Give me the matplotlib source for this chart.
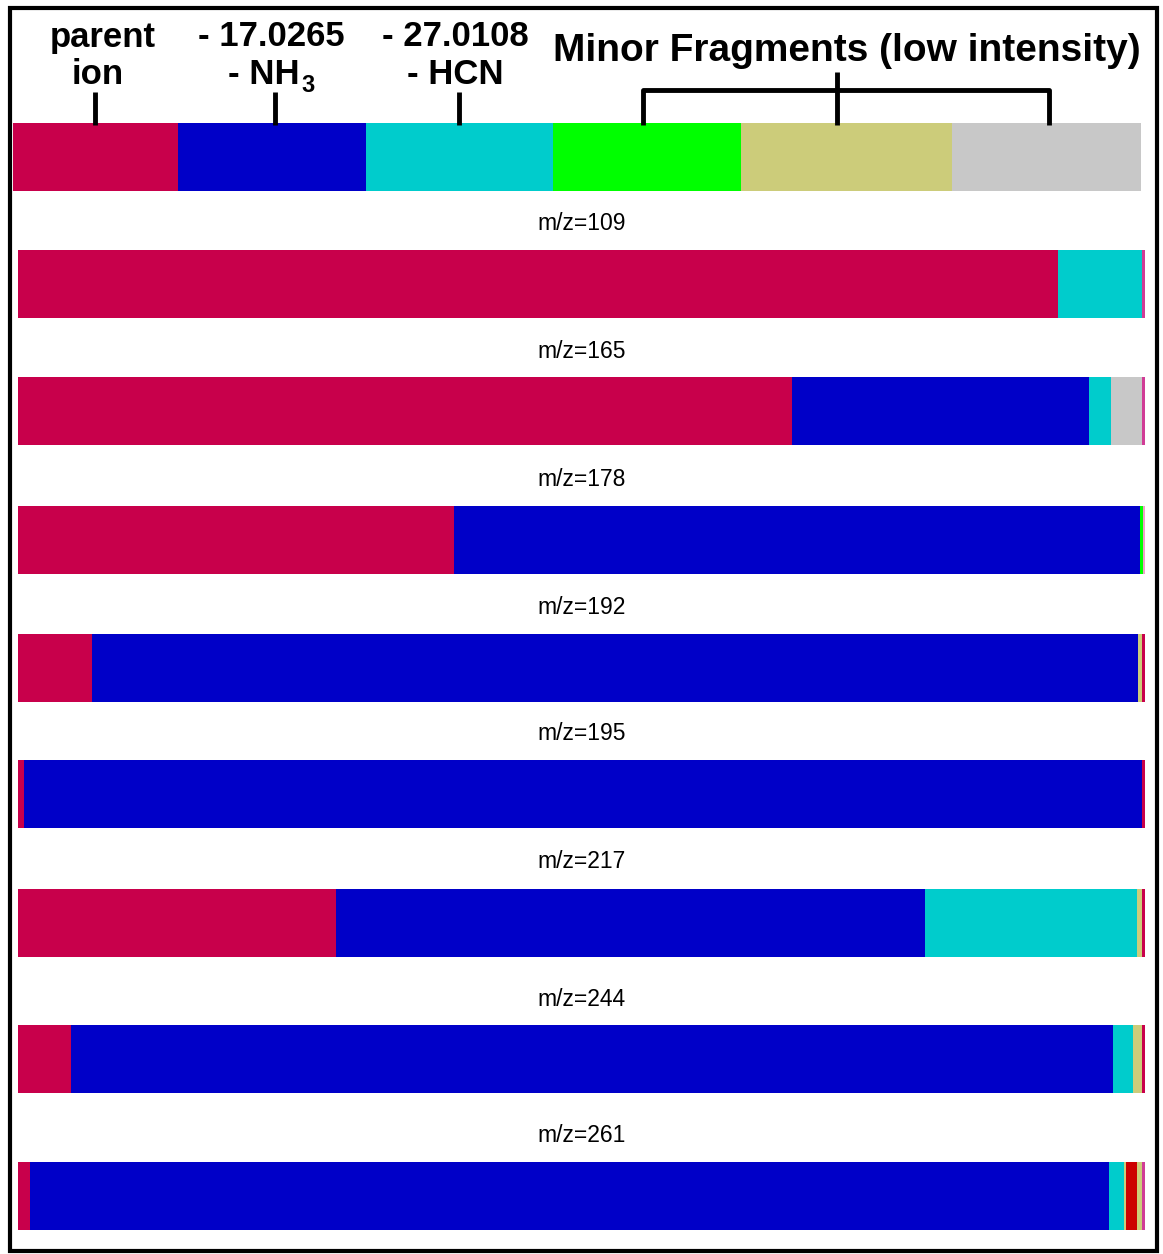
import matplotlib
matplotlib.use("Agg")
import matplotlib.pyplot as plt
import numpy as np

plt.rcParams['font.family'] = ['Liberation Sans', 'DejaVu Sans']

# fragment colours
c_parent = '#C8004B'
c_nh3 = '#0000C8'
c_hcn = '#00CCCC'
c_green = '#00FF00'
c_khaki = '#CCCC7A'
c_gray = '#C8C8C8'
c_mag = '#D03C96'
c_dred = '#CC0000'

# legend strip (colour, width in px)
legend_colors = [c_parent, c_nh3, c_hcn, c_green, c_khaki, c_gray]
legend_widths = [165, 188, 187, 188, 211, 189]

# fragment share (%) for each precursor, left to right
labels = ['m/z=109', 'm/z=165', 'm/z=178', 'm/z=192',
          'm/z=195', 'm/z=217', 'm/z=244', 'm/z=261']
seg_colors = [
    [c_parent, c_hcn, c_mag],
    [c_parent, c_nh3, c_hcn, c_gray, c_mag],
    [c_parent, c_nh3, c_green, '#F0A0C8'],
    [c_parent, c_nh3, c_khaki, c_parent],
    [c_parent, c_nh3, c_parent],
    [c_parent, c_nh3, c_hcn, c_khaki, c_parent],
    [c_parent, c_nh3, c_hcn, c_khaki, c_parent],
    [c_parent, c_nh3, c_hcn, c_khaki, c_dred, c_khaki, c_mag],
]
seg_values = [
    [92.3, 7.4, 0.3],
    [68.7, 26.3, 2.0, 2.7, 0.3],
    [38.7, 60.9, 0.25, 0.15],
    [6.6, 92.8, 0.3, 0.3],
    [0.5, 99.2, 0.3],
    [28.2, 52.3, 18.8, 0.4, 0.3],
    [4.7, 92.5, 1.7, 0.8, 0.3],
    [1.1, 95.7, 1.3, 0.2, 1.0, 0.4, 0.3],
]

W, H = 1163, 1254
fig = plt.figure(figsize=(W / 100, H / 100), dpi=100)

# header / frame axes in pixel units
hx = fig.add_axes([0, 0, 1, 1])
hx.set_xlim(0, W)
hx.set_ylim(H, 0)
hx.axis('off')

hx.add_patch(plt.Rectangle((10, 8), 1147, 1243, fill=False, lw=3, ec='black'))

x0 = 13
for col, w in zip(legend_colors, legend_widths):
    hx.add_patch(plt.Rectangle((x0, 123), w, 68, color=col, lw=0))
    x0 += w

hd = dict(ha='center', va='center', fontsize=25, fontweight='bold')
hx.text(103, 37, 'parent', **hd)
hx.text(98, 75, 'ion', **hd)
hx.text(271, 36, '- 17.0265', **hd)
hx.text(264, 75, '- NH', **hd)
hx.text(308, 85, '3', ha='center', va='center', fontsize=17, fontweight='bold')
hx.text(455, 36, '- 27.0108', **hd)
hx.text(455, 75, '- HCN', **hd)
hx.text(847, 51, 'Minor Fragments (low intensity)', ha='center', va='center',
        fontsize=28, fontweight='bold')

lk = dict(color='black', lw=3.5, solid_capstyle='butt')
for xt in [95, 275, 459]:
    hx.plot([xt, xt], [92, 125], **lk)
hx.plot([643, 643, 1049, 1049], [125, 90, 90, 125], **lk)
hx.plot([837, 837], [72, 125], **lk)

# data bars: x in percent, y in pixel units
ax = fig.add_axes([18 / W, 0, 1127 / W, 1])
ax.set_xlim(0, 100)
ax.set_ylim(H, 0)
ax.axis('off')
ax.patch.set_alpha(0)

bar_tops = [250, 377, 506, 634, 760, 889, 1025, 1162]
bar_h = 68
label_y = [224, 351, 480, 607, 733, 862, 999, 1135]

for lab, cols, vals, top, ly in zip(labels, seg_colors, seg_values, bar_tops, label_y):
    lefts = np.concatenate([[0], np.cumsum(vals)[:-1]])
    ax.barh([top + bar_h / 2] * len(vals), vals, left=lefts, height=bar_h,
            color=cols, lw=0)
    ax.text(50, ly, lab, ha='center', va='center', fontsize=16.5)

fig.savefig('out.png', dpi=100)
